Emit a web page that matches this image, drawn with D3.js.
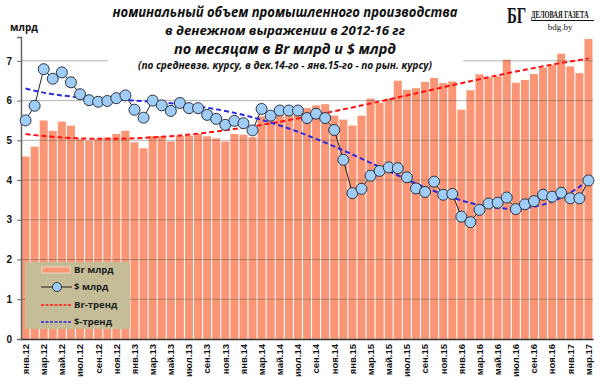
<!DOCTYPE html>
<html>
<head>
<meta charset="utf-8">
<title>Промпроизводство 2012-17</title>
<script src="https://d3js.org/d3.v7.min.js"></script>
<style>
  body { margin: 0; background: #fff; }
  svg { display: block; font-family: "Open Sans", "Liberation Sans", sans-serif; }
</style>
</head>
<body>
<svg width="600" height="386"></svg>
<script>
// months / years used for the category axis
const monthNames = ['янв', 'фев', 'мар', 'апр', 'май', 'июн', 'июл', 'авг', 'сен', 'окт', 'ноя', 'дек'];
const years = ['12', '13', '14', '15', '16', '17'];

// Br bln per month, янв.12 .. мар.17
const brValues = [
  4.59, 4.84, 5.50, 5.24, 5.47, 5.37, 5.03, 4.99, 5.03, 5.07, 5.16, 5.24,
  4.95, 4.80, 5.11, 5.10, 4.97, 5.11, 5.12, 5.16, 5.10, 5.05, 4.97, 5.16,
  5.14, 5.08, 5.60, 5.55, 5.62, 5.68, 5.64, 5.81, 5.88, 5.91, 5.62, 5.52,
  5.37, 5.62, 6.05, 5.94, 6.05, 6.50, 6.27, 6.31, 6.47, 6.57, 6.44, 6.48,
  5.77, 6.26, 6.66, 6.58, 6.61, 7.03, 6.45, 6.52, 6.67, 6.83, 6.90, 7.18,
  6.86, 6.69, 7.55
];

// $ bln per month
const usdValues = [
  5.50, 5.87, 6.79, 6.55, 6.71, 6.46, 6.16, 6.01, 5.97, 5.99, 6.06, 6.13,
  5.77, 5.57, 6.00, 5.88, 5.74, 5.94, 5.81, 5.81, 5.64, 5.54, 5.39, 5.49,
  5.43, 5.25, 5.79, 5.62, 5.75, 5.75, 5.75, 5.56, 5.67, 5.56, 5.26, 4.51,
  3.67, 3.78, 4.11, 4.23, 4.32, 4.30, 4.07, 3.79, 3.70, 3.96, 3.63, 3.65,
  3.08, 2.94, 3.25, 3.41, 3.43, 3.56, 3.27, 3.39, 3.47, 3.63, 3.58, 3.68,
  3.54, 3.54, 3.99
];

const yTicks = [0, 1, 2, 3, 4, 5, 6, 7];
const titleLines = [
  'номинальный  объем  промышленного  производства',
  'в денежном  выражении  в 2012-16 гг',
  'по месяцам в Br млрд и $ млрд',
  '(по средневзв.  курсу,  в дек.14-го  - янв.15-го  - по рын. курсу)'
];
const legendLabels = ['Br млрд', '$ млрд', 'Br-тренд', '$-тренд'];

const months = [];
years.forEach(y => monthNames.forEach(m => months.push(m + '.' + y)));
months.length = brValues.length;
const labelMonths = months.filter((m, i) => i % 2 === 0);

const svg = d3.select('svg');
const plotLeft = 21, plotRight = 593, plotTop = 37, plotBottom = 339;

const x = d3.scaleBand().domain(months).range([plotLeft, plotRight]).paddingInner(0.12).paddingOuter(0.06);
const y = d3.scaleLinear().domain([0, 7.6]).range([plotBottom, plotTop]);
const cx = i => x(months[i]) + x.bandwidth() / 2;

// least squares polynomial trend (like the excel trendline)
function polyfit(vals, order) {
  const n = vals.length, h = (n - 1) / 2;
  const m = order + 1;
  const A = [], b = [];
  for (let r = 0; r < m; r++) { A.push(new Array(m).fill(0)); b.push(0); }
  vals.forEach((v, i) => {
    const t = (i - h) / h;
    for (let r = 0; r < m; r++) {
      b[r] += v * Math.pow(t, r);
      for (let c = 0; c < m; c++) A[r][c] += Math.pow(t, r + c);
    }
  });
  for (let c = 0; c < m; c++) {
    let p = c;
    for (let r = c + 1; r < m; r++) if (Math.abs(A[r][c]) > Math.abs(A[p][c])) p = r;
    [A[c], A[p]] = [A[p], A[c]]; [b[c], b[p]] = [b[p], b[c]];
    for (let r = c + 1; r < m; r++) {
      const f = A[r][c] / A[c][c];
      for (let k = c; k < m; k++) A[r][k] -= f * A[c][k];
      b[r] -= f * b[c];
    }
  }
  const coef = new Array(m).fill(0);
  for (let r = m - 1; r >= 0; r--) {
    let s = b[r];
    for (let k = r + 1; k < m; k++) s -= A[r][k] * coef[k];
    coef[r] = s / A[r][r];
  }
  return vals.map((v, i) => {
    const t = (i - h) / h;
    return coef.reduce((acc, cf, k) => acc + cf * Math.pow(t, k), 0);
  });
}

const brTrend = polyfit(brValues, 4);
const usdTrend = polyfit(usdValues, 4);

// bars
svg.append('g').selectAll('rect')
  .data(brValues)
  .join('rect')
  .attr('x', (d, i) => x(months[i]))
  .attr('y', d => y(d))
  .attr('width', x.bandwidth())
  .attr('height', d => plotBottom - y(d))
  .attr('fill', '#fa9676');

// gridlines over the bars
svg.append('g').selectAll('line')
  .data(yTicks.filter(t => t > 0))
  .join('line')
  .attr('x1', plotLeft).attr('x2', plotRight)
  .attr('y1', d => y(d)).attr('y2', d => y(d))
  .attr('stroke', '#555').attr('stroke-opacity', 0.45).attr('stroke-width', 1);

// white title box hides the top gridline
svg.append('rect').attr('x', 108).attr('y', 0).attr('width', 355).attr('height', 74).attr('fill', '#fff');

// axes
const yAxis = svg.append('g')
  .attr('transform', `translate(${plotLeft},0)`)
  .call(d3.axisLeft(y).tickValues(yTicks).tickSize(4).tickPadding(5).tickFormat(d3.format('d')));
yAxis.select('.domain').attr('stroke', '#666').attr('stroke-width', 1.5);
yAxis.selectAll('.tick line').attr('stroke', '#666');
yAxis.selectAll('text').attr('font-size', 10).attr('font-weight', 'bold').attr('fill', '#111');

const xAxis = svg.append('g')
  .attr('transform', `translate(0,${plotBottom})`)
  .call(d3.axisBottom(x).tickValues(labelMonths).tickSize(0).tickPadding(4));
xAxis.select('.domain').attr('stroke', '#333').attr('stroke-width', 1.5);
xAxis.selectAll('text')
  .attr('font-size', 9.5).attr('font-weight', 'bold').attr('fill', '#111')
  .attr('text-anchor', 'end')
  .attr('transform', 'rotate(-90)')
  .attr('x', -5).attr('y', 0).attr('dy', '0.35em');

// trend lines
const trendLine = d3.line().x((d, i) => cx(i)).y(d => y(d));
svg.append('path').datum(brTrend).attr('d', trendLine)
  .attr('fill', 'none').attr('stroke', '#ff1010').attr('stroke-width', 2).attr('stroke-dasharray', '5,3');

// $ series
svg.append('path').datum(usdValues).attr('d', trendLine)
  .attr('fill', 'none').attr('stroke', '#222').attr('stroke-width', 1);
svg.append('path').datum(usdTrend).attr('d', trendLine)
  .attr('fill', 'none').attr('stroke', '#2a2ae0').attr('stroke-width', 2).attr('stroke-dasharray', '5,3');
svg.append('g').selectAll('circle')
  .data(usdValues)
  .join('circle')
  .attr('cx', (d, i) => cx(i))
  .attr('cy', d => y(d))
  .attr('r', 5.5)
  .attr('fill', '#9fcdf7')
  .attr('stroke', '#2b3340').attr('stroke-width', 1);

// title
const title = svg.append('g').attr('font-style', 'italic').attr('font-weight', 'bold').attr('fill', '#111').attr('text-anchor', 'middle');
const tl = [
  { y: 17, size: 13.5, len: 345 },
  { y: 35, size: 13, len: 240 },
  { y: 54, size: 15, len: 222 },
  { y: 69, size: 10, len: 294 }
];
titleLines.forEach((t, i) => {
  title.append('text').attr('x', 285).attr('y', tl[i].y).attr('font-size', tl[i].size)
    .attr('textLength', tl[i].len).attr('lengthAdjust', 'spacingAndGlyphs').text(t);
});

svg.append('text').attr('x', 10).attr('y', 31).attr('font-size', 10).attr('font-weight', 'bold').attr('fill', '#111').text('млрд');

// logo (condensed by horizontal scaling)
const logo = svg.append('g').attr('font-family', '"Liberation Serif", "DejaVu Serif", serif').attr('fill', '#111');
logo.append('text').attr('transform', 'translate(507,23) scale(0.62,1)')
  .attr('font-size', 24).attr('font-weight', 'bold').text('БГ');
logo.append('text').attr('transform', 'translate(531,18) scale(0.68,1)')
  .attr('font-size', 9.5).attr('font-weight', 'bold').text('ДЕЛОВАЯ ГАЗЕТА');
logo.append('line').attr('x1', 531).attr('x2', 594).attr('y1', 20.5).attr('y2', 20.5).attr('stroke', '#111').attr('stroke-width', 1);
logo.append('text').attr('x', 560).attr('y', 30).attr('font-size', 9).attr('text-anchor', 'middle').text('bdg.by');

// legend
const lg = svg.append('g').attr('transform', 'translate(25,262)');
lg.append('rect').attr('width', 105).attr('height', 67).attr('fill', '#c4bd97');
const rowY = [8, 25, 43, 60];
lg.append('rect').attr('x', 17).attr('y', rowY[0] - 3).attr('width', 28).attr('height', 6).attr('fill', '#fa9676').attr('stroke', '#fff').attr('stroke-width', 0.5);
lg.append('line').attr('x1', 16).attr('x2', 47).attr('y1', rowY[1]).attr('y2', rowY[1]).attr('stroke', '#222');
lg.append('circle').attr('cx', 32).attr('cy', rowY[1]).attr('r', 4.5).attr('fill', '#9fcdf7').attr('stroke', '#2b3340');
lg.append('line').attr('x1', 16).attr('x2', 47).attr('y1', rowY[2]).attr('y2', rowY[2]).attr('stroke', '#ff1010').attr('stroke-width', 1.3).attr('stroke-dasharray', '3,1.5');
lg.append('line').attr('x1', 16).attr('x2', 47).attr('y1', rowY[3]).attr('y2', rowY[3]).attr('stroke', '#2a2ae0').attr('stroke-width', 1.3).attr('stroke-dasharray', '3,1.5');
lg.selectAll('text.lab').data(legendLabels).join('text')
  .attr('x', 49).attr('y', (d, i) => rowY[i]).attr('dy', '0.35em')
  .attr('font-size', 9.5).attr('font-weight', 'bold').attr('fill', '#222').text(d => d);
</script>
</body>
</html>
